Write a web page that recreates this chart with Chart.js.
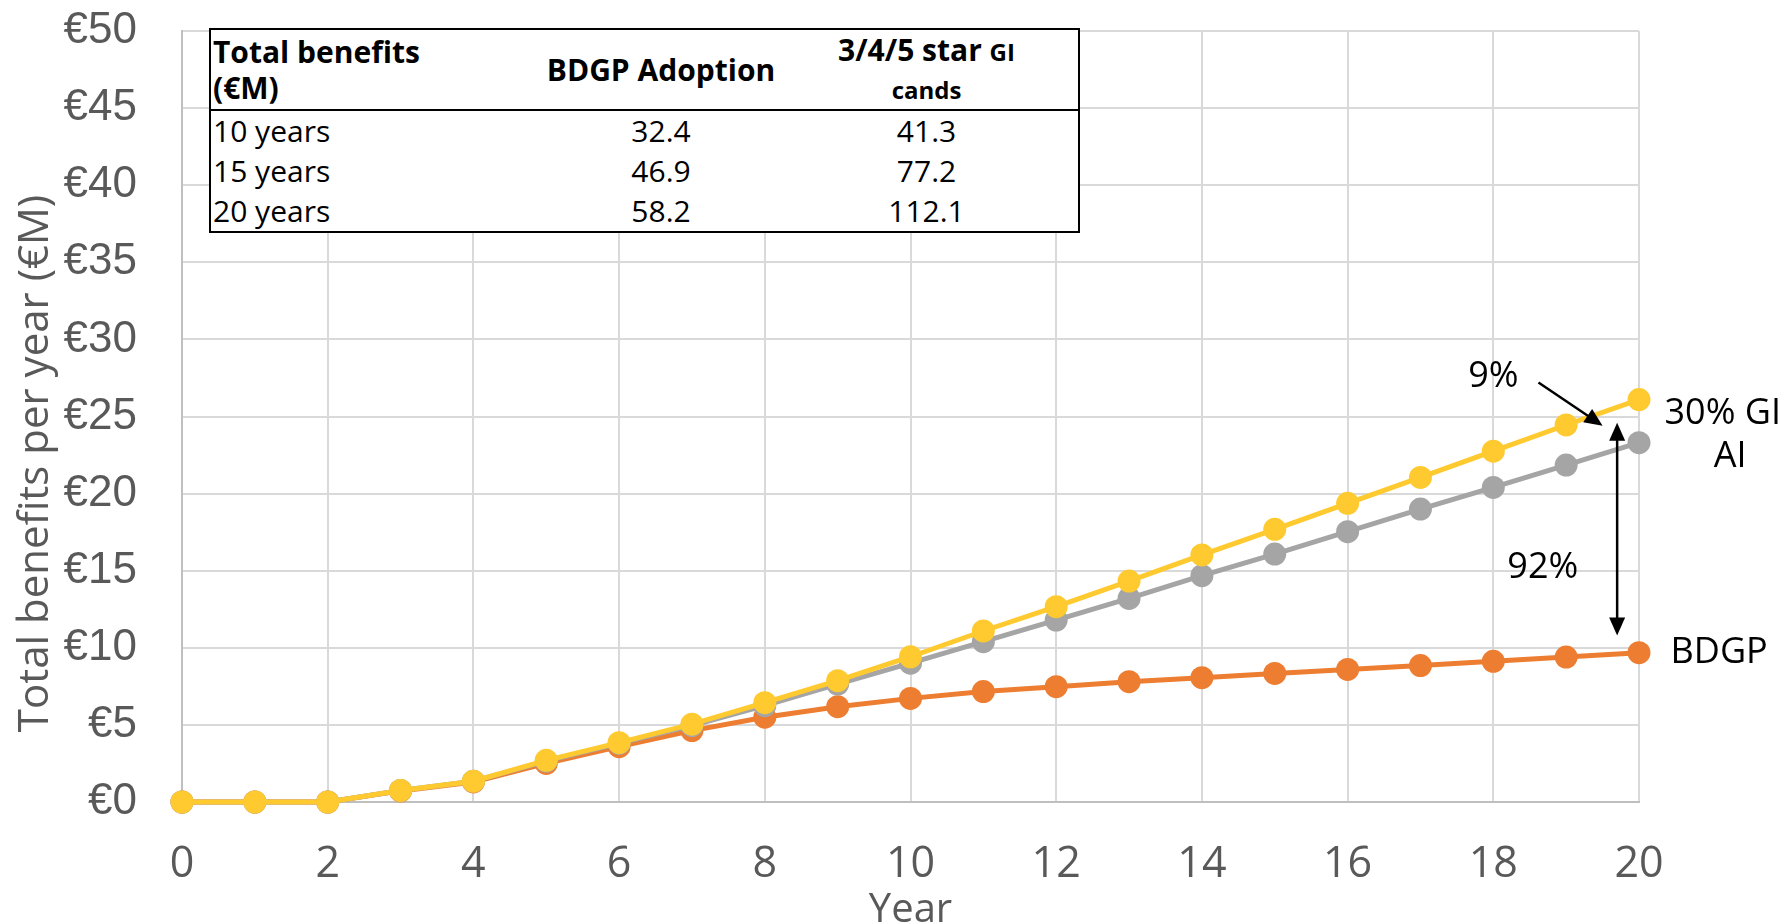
<!DOCTYPE html>
<html>
<head>
<meta charset="utf-8">
<script src="https://cdn.jsdelivr.net/npm/chart.js@4.4.0/dist/chart.umd.min.js"></script>
<style>
    body { margin: 0; background: #fff; }
    #wrap { position: relative; width: 1787px; height: 922px; }
    #chart { position: absolute; left: 0; top: 0; }
    #tbl {
        position: absolute; left: 209px; top: 28px; width: 871px;
        border-collapse: collapse; border: 2px solid #000; background: #fff;
        font-family: "Open Sans", sans-serif; font-size: 30px; color: #000;
    }
    #tbl td { padding: 0; line-height: 36px; height: 40px; }
    #tbl tr.head td { height: 79px; font-weight: bold; border-bottom: 2px solid #000; vertical-align: middle; }
    #tbl td.c1 { width: 318px; padding-left: 2px; text-align: left; }
    #tbl td.c2 { width: 260px; text-align: center; }
    #tbl td.c3 { text-align: center; padding-right: 16px; }
    #tbl .small { font-size: 24px; }
</style>
</head>
<body>
<div id="wrap">
    <canvas id="chart" width="1787" height="922"></canvas>
    <table id="tbl"></table>
</div>
<script>
var years = [0, 1, 2, 3, 4, 5, 6, 7, 8, 9, 10, 11, 12, 13, 14, 15, 16, 17, 18, 19, 20];
var giAI = [0, 0, 0, 0.75, 1.35, 2.7, 3.85, 5.05, 6.44, 7.87, 9.42, 11.09, 12.67, 14.33, 16.02, 17.68, 19.37, 21.05, 22.75, 24.45, 26.1];
var giCands = [0, 0, 0, 0.75, 1.35, 2.65, 3.8, 4.95, 6.25, 7.65, 9.0, 10.4, 11.8, 13.2, 14.68, 16.08, 17.53, 19.0, 20.4, 21.85, 23.3];
var bdgp = [0, 0, 0, 0.72, 1.3, 2.5, 3.59, 4.63, 5.5, 6.18, 6.72, 7.16, 7.48, 7.8, 8.06, 8.34, 8.6, 8.85, 9.12, 9.4, 9.68];

var yTicks = [0, 5, 10, 15, 20, 25, 30, 35, 40, 45, 50];

// summary table
var tableHeads = ['Total benefits<br>(€M)', 'BDGP Adoption', '3/4/5 star <span class="small">GI</span><br><span class="small">cands</span>'];
var tableRows = ['10 years', '15 years', '20 years'];
var tableBdgp = ['32.4', '46.9', '58.2'];
var tableGi = ['41.3', '77.2', '112.1'];

// annotations: [text, x, y]
var notes = [
    ['9%', 18.0, 27.6],
    ['92%', 18.68, 15.2],
    ['30% GI', 21.15, 25.2],
    ['AI', 21.25, 22.4],
    ['BDGP', 21.1, 9.65]
];
var doubleArrow = [19.7, 24.6, 10.8];
var slantArrow = [18.62, 27.2, 19.5, 24.4];

var html = '<tr class="head"><td class="c1">' + tableHeads[0] + '</td><td class="c2">' + tableHeads[1] + '</td><td class="c3">' + tableHeads[2] + '</td></tr>';
for (var i = 0; i < tableRows.length; i++) {
    html += '<tr><td class="c1">' + tableRows[i] + '</td><td class="c2">' + tableBdgp[i] + '</td><td class="c3">' + tableGi[i] + '</td></tr>';
}
document.getElementById('tbl').innerHTML = html;

function pts(vals) {
    return vals.map(function(v, i) { return {x: years[i], y: v}; });
}

function arrowHead(ctx, x1, y1, x2, y2) {
    var a = Math.atan2(y2 - y1, x2 - x1);
    var len = 18, w = 8;
    ctx.beginPath();
    ctx.moveTo(x2, y2);
    ctx.lineTo(x2 - len * Math.cos(a) + w * Math.sin(a), y2 - len * Math.sin(a) - w * Math.cos(a));
    ctx.lineTo(x2 - len * Math.cos(a) - w * Math.sin(a), y2 - len * Math.sin(a) + w * Math.cos(a));
    ctx.closePath();
    ctx.fill();
}

var annotate = {
    id: 'annotate',
    afterDatasetsDraw: function(chart) {
        var ctx = chart.ctx, xs = chart.scales.x, ys = chart.scales.y;
        ctx.save();
        ctx.fillStyle = '#000';
        ctx.strokeStyle = '#000';
        ctx.lineWidth = 2.5;
        ctx.font = '36px "Open Sans"';
        ctx.textAlign = 'center';
        ctx.textBaseline = 'middle';
        notes.forEach(function(n) {
            ctx.fillText(n[0], xs.getPixelForValue(n[1]), ys.getPixelForValue(n[2]));
        });

        var ax = xs.getPixelForValue(doubleArrow[0]);
        var ay1 = ys.getPixelForValue(doubleArrow[1]), ay2 = ys.getPixelForValue(doubleArrow[2]);
        ctx.beginPath();
        ctx.moveTo(ax, ay1 + 12);
        ctx.lineTo(ax, ay2 - 12);
        ctx.stroke();
        arrowHead(ctx, ax, ay2, ax, ay1);
        arrowHead(ctx, ax, ay1, ax, ay2);

        var sx1 = xs.getPixelForValue(slantArrow[0]), sy1 = ys.getPixelForValue(slantArrow[1]);
        var sx2 = xs.getPixelForValue(slantArrow[2]), sy2 = ys.getPixelForValue(slantArrow[3]);
        var ang = Math.atan2(sy2 - sy1, sx2 - sx1);
        ctx.beginPath();
        ctx.moveTo(sx1, sy1);
        ctx.lineTo(sx2 - 12 * Math.cos(ang), sy2 - 12 * Math.sin(ang));
        ctx.stroke();
        arrowHead(ctx, sx1, sy1, sx2, sy2);

        // y axis title, sits a bit below the plot middle like the original
        ctx.translate(36, (chart.chartArea.top + chart.chartArea.bottom) / 2 + 47);
        ctx.rotate(-Math.PI / 2);
        ctx.fillStyle = '#595959';
        ctx.font = '42px "Open Sans"';
        ctx.fillText('Total benefits per year (€M)', 0, 0);
        ctx.restore();
    }
};

function series(label, vals, color) {
    return {
        label: label,
        data: pts(vals),
        borderColor: color,
        backgroundColor: color,
        borderWidth: 5,
        pointRadius: 11.5,
        pointHoverRadius: 11.5,
        pointBorderWidth: 0,
        tension: 0
    };
}

new Chart(document.getElementById('chart').getContext('2d'), {
    type: 'line',
    data: {
        datasets: [
            series('30% GI AI', giAI, '#FFCA30'),
            series('3/4/5 star GI cands', giCands, '#A5A5A5'),
            series('BDGP', bdgp, '#ED7D31')
        ]
    },
    options: {
        responsive: false,
        animation: false,
        devicePixelRatio: 1,
        clip: false,
        layout: { padding: { left: 0, right: 148, top: 31, bottom: 0 } },
        plugins: { legend: { display: false }, tooltip: { enabled: false } },
        scales: {
            x: {
                type: 'linear',
                min: 0,
                max: 20,
                afterFit: function(s) { s.height = 120; s.paddingLeft = 0; s.paddingRight = 0; },
                grid: { color: '#D9D9D9', lineWidth: 2, drawTicks: false },
                border: { color: '#BFBFBF', width: 2 },
                ticks: { stepSize: 2, padding: 37, color: '#595959', font: { family: 'Open Sans', size: 43 } },
                title: { display: true, text: 'Year', color: '#595959', padding: 0, font: { family: 'Open Sans', size: 40, lineHeight: 0.55 } }
            },
            y: {
                min: 0,
                max: 50,
                afterFit: function(s) { s.width = 182; s.paddingTop = 0; s.paddingBottom = 0; },
                afterBuildTicks: function(s) { s.ticks = yTicks.map(function(v) { return {value: v}; }); },
                grid: { color: '#D9D9D9', lineWidth: 2, drawTicks: false },
                border: { color: '#BFBFBF', width: 2 },
                ticks: {
                    padding: 45,
                    color: '#595959',
                    font: { family: 'Liberation Sans', size: 44 },
                    callback: function(v) { return '€' + v; }
                }
            }
        }
    },
    plugins: [annotate]
});
</script>
</body>
</html>
